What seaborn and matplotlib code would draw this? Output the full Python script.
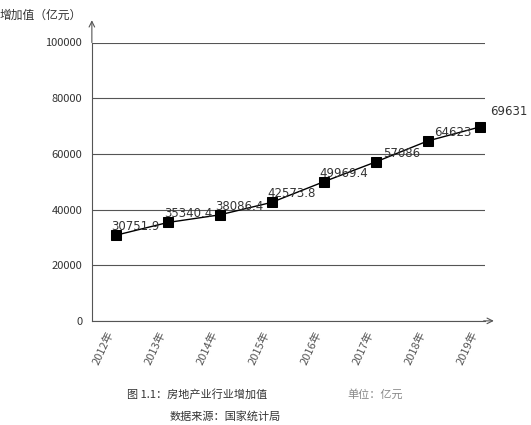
import seaborn as sns
import matplotlib.pyplot as plt

# 数据
anos = ["2012年", "2013年", "2014年", "2015年", "2016年", "2017年", "2018年", "2019年"]
valores = [30751.9, 35340.4, 38086.4, 42573.8, 49969.4, 57086, 64623, 69631]
rotulos = ["30751.9", "35340.4", "38086.4", "42573.8", "49969.4", "57086", "64623", "69631"]

sns.set_style("white")
plt.rcParams['font.family'] = ['Noto Sans CJK SC', 'DejaVu Sans']

fig = plt.figure(figsize=(5.31, 4.25), dpi=100)
ax = fig.add_axes([0.173, 0.245, 0.74, 0.655])
x = list(range(len(anos)))
sns.lineplot(x=x, y=valores, ax=ax, color="black", linewidth=1, marker="s",
             markersize=7, markeredgecolor="black")

for i, (v, r) in enumerate(zip(valores, rotulos)):
    if i == len(valores) - 1:
        ax.text(i + 0.2, v + 4500, r, fontsize=8.5, color="#333333", family="DejaVu Sans")
    else:
        ax.text(i + 0.85, v + 1800, r, fontsize=8.5, color="#333333",
                family="DejaVu Sans", ha="right")

ax.set_ylim(0, 100000)
ax.set_xlim(-0.46, 7.1)
ax.set_yticks(range(0, 100001, 20000))
ax.yaxis.grid(True, color="#555555", linewidth=0.8)
ax.set_xticks(x)
ax.set_xticklabels(anos, rotation=65, ha="right", fontsize=8, color="#333333")
ax.tick_params(axis="y", labelsize=8, colors="#333333")
ax.tick_params(axis="x", length=3, colors="#555555")
for s in ["top", "right"]:
    ax.spines[s].set_visible(False)
for s in ["left", "bottom"]:
    ax.spines[s].set_color("#555555")
ax.annotate("", xy=(0, 1.09), xytext=(0, 0.99), xycoords="axes fraction",
            arrowprops=dict(arrowstyle="->", color="#555555", lw=0.8))
ax.annotate("", xy=(1.03, 0), xytext=(0.99, 0), xycoords="axes fraction",
            arrowprops=dict(arrowstyle="->", color="#555555", lw=0.8))

fig.text(0.0, 0.955, "增加值（亿元）", fontsize=8.5, color="#333333")
fig.text(0.24, 0.065, "图 1.1：房地产业行业增加值", fontsize=8, color="#333333")
fig.text(0.655, 0.065, "单位：亿元", fontsize=8, color="#888888")
fig.text(0.32, 0.012, "数据来源：国家统计局", fontsize=8, color="#333333")

fig.savefig("out.png", dpi=100)
